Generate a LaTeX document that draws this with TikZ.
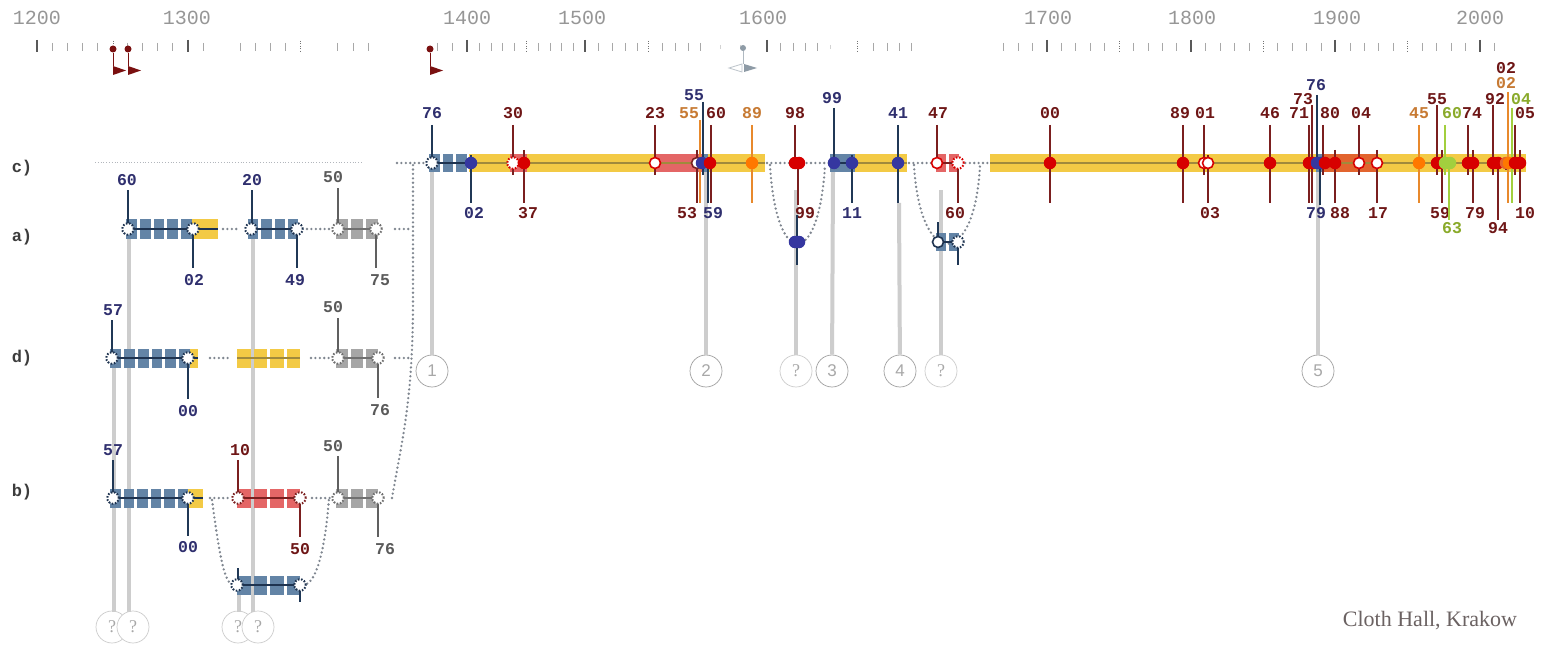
\documentclass[tikz,border=0pt]{standalone}
\usepackage{fontspec}
\setmainfont{Liberation Serif}
\newfontfamily\monofam{Liberation Mono}
\newfontfamily\sansfam{Liberation Sans}
\usetikzlibrary{positioning}

\definecolor{barblue}{HTML}{6384A6}
\definecolor{baryel}{HTML}{F3CA45}
\definecolor{barred}{HTML}{E46666}
\definecolor{bargrey}{HTML}{A6A6A6}
\definecolor{barorg}{HTML}{E2642E}
\definecolor{navy}{HTML}{2F2F6E}
\definecolor{navyd}{HTML}{1E3350}
\definecolor{stnavy}{HTML}{203856}
\definecolor{dotblue}{HTML}{3537A0}
\definecolor{dotred}{HTML}{D70000}
\definecolor{dred}{HTML}{6E1616}
\definecolor{stred}{HTML}{7B1F1F}
\definecolor{orng}{HTML}{FF7800}
\definecolor{stor}{HTML}{E8892C}
\definecolor{orlab}{HTML}{C77A33}
\definecolor{grn}{HTML}{A2CF3E}
\definecolor{grlab}{HTML}{8AAA2A}
\definecolor{labgrey}{HTML}{5A5A5A}
\definecolor{stgrey}{HTML}{606060}
\definecolor{dgrey}{HTML}{707070}
\definecolor{gline}{HTML}{CDCDCD}
\definecolor{dotcol}{HTML}{7F8690}
\definecolor{olive}{HTML}{A08A3C}
\definecolor{rowgrey}{HTML}{3C3C3C}
\definecolor{yeargrey}{HTML}{969696}
\definecolor{tickgrey}{HTML}{A8A8A8}
\definecolor{flagred}{HTML}{7A1010}
\definecolor{markgrey}{HTML}{8E9BA6}
\definecolor{ringcol}{HTML}{A0A0A0}
\definecolor{qringcol}{HTML}{CCCCCC}
\definecolor{ringtext}{HTML}{A8A8A8}
\definecolor{placetext}{HTML}{6B6262}

\newcommand{\labfont}{\monofam\bfseries\fontsize{16.5}{17}\selectfont}
\newcommand{\yearfont}{\monofam\fontsize{20}{22}\selectfont}
\newcommand{\rowfont}{\monofam\bfseries\fontsize{17}{18}\selectfont}

% x1, x2, number of pieces, y centre, height, colour
\newcommand{\segbar}[6]{%
  \pgfmathsetmacro{\segw}{(#2-#1-3*(#3-1))/#3}
  \foreach \k in {1,...,#3}{
    \fill[#6] ({#1+(\k-1)*(\segw+3)},{#4-#5/2}) rectangle ++(\segw,#5);
  }}

\begin{document}
\begin{tikzpicture}[x=1pt,y=-1pt,
  lab/.style={font=\labfont, inner sep=0pt},
  rowlab/.style={font=\rowfont, text=rowgrey, inner sep=0pt},
  yearlab/.style={font=\yearfont, text=yeargrey, inner sep=0pt},
  stemln/.style={line width=1.3pt},
  midline/.style={line width=1.1pt},
  fdot/.style={circle, fill=#1, inner sep=0pt, minimum size=12.5pt},
  odot/.style={circle, draw=#1, fill=white, line width=1.6pt, inner sep=0pt, minimum size=11pt},
  ddot/.style={circle, draw=#1, fill=white, line width=2pt, dash pattern=on 1.6pt off 1.6pt, inner sep=0pt, minimum size=11.5pt},
  link/.style={dotcol, line width=2.6pt, dash pattern=on 0pt off 4.4pt, line cap=round},
  guide/.style={gline, line width=4pt},
  ring/.style={circle, draw=ringcol, fill=white, line width=0.7pt, minimum size=32pt, inner sep=0pt, font=\sansfam\fontsize{17}{17}\selectfont, text=ringtext},
  qring/.style={ring, draw=qringcol, font=\rmfamily\fontsize{18}{18}\selectfont},
  minortick/.style={tickgrey, line width=0.9pt},
  majortick/.style={black!65, line width=1.6pt},
  halftick/.style={black!55, line width=1pt, dash pattern=on 1pt off 1.5pt},
]
\useasboundingbox (0,0) rectangle (1550,658);
\fill[white] (0,0) rectangle (1550,658);

% time axis
\foreach \yr/\xx in {1200/37,1300/187,1400/467,1500/582,1600/763,1700/1048,1800/1192,1900/1337,2000/1480}
  \node[yearlab] (y\yr) at (\xx,18) {\yr};
\foreach \tx in {37,188,467,585,767,1047,1191,1335,1480}
  \draw[majortick] (\tx,40) -- (\tx,52);
\foreach \tx in {113,300,526,648,857,1119,1263,1407}
  \draw[halftick] (\tx,41) -- (\tx,52);
\foreach \k in {1,2,3,4,6,7,8,9}
  \draw[minortick] ({37+15.1*\k},43) -- ({37+15.1*\k},51);
\foreach \tx in {203,240,255,270,285,337,353,368,437,452,
                 479,491,502,514,538,550,561,573,
                 598,612,625,637,662,675,688,700,
                 780,793,805,817,873,887,899,911}
  \draw[minortick] (\tx,43) -- (\tx,51);
\foreach \tx in {720,740,830}
  \draw[tickgrey!50, line width=0.8pt] (\tx,45) -- (\tx,49);
\foreach \k in {-3,-2,-1,1,2,3,4,6,7,8,9,11,12,13,14,16,17,18,19,21,22,23,24,26,27,28,29,31}
  \draw[minortick] ({1047+14.43*\k},43) -- ({1047+14.43*\k},51);

% flags on the axis
\foreach \fx [count=\i] in {113,128,430}{
  \node[circle, fill=flagred, inner sep=0pt, minimum size=7pt] (fd\i) at (\fx,49) {};
  \coordinate (ff\i) at (\fx,66);
  \draw[flagred, line width=0.6pt] (fd\i) -- (ff\i);
  \fill[flagred] (ff\i) -- ++(0,9) -- ++(13,-4.5) -- cycle;
}
\node[circle, fill=markgrey, inner sep=0pt, minimum size=6pt] (gm) at (743,48) {};
\coordinate (gmf) at (743,64);
\draw[markgrey!70, line width=0.6pt] (gm) -- (gmf);
\draw[markgrey!60, line width=0.8pt, fill=white] (742,64) -- (729,68) -- (742,72) -- cycle;
\fill[markgrey] (744,64) -- (757,68) -- (744,72) -- cycle;

% row names
\node[rowlab] (rc) at (22,168) {c)};
\node[rowlab] (ra) at (22,237) {a)};
\node[rowlab] (rd) at (22,358) {d)};
\node[rowlab] (rb) at (22,492) {b)};

% rings and guides
\node[ring] (r1) at (432,371) {1};
\node[ring] (r2) at (706,371) {2};
\node[qring] (q1) at (796,371) {?};
\node[ring] (r3) at (832,371) {3};
\node[ring] (r4) at (900,371) {4};
\node[qring] (q2) at (941,371) {?};
\node[ring] (r5) at (1318,371) {5};
\node[qring] (q3) at (112,627) {?};
\node[qring] (q4) at (133,627) {?};
\node[qring] (q5) at (238,627) {?};
\node[qring] (q6) at (258,627) {?};
\draw[guide] (432,172) -- (r1);
\draw[guide] (706,172) -- (r2);
\draw[guide] (796,190) -- (q1);
\draw[guide] (833,172) -- (r3);
\draw[guide] (899,203) -- (r4);
\draw[guide] (941,190) -- (q2);
\draw[guide] (1318,172) -- (r5);
\draw[guide] (114,368) -- (114,612);
\draw[guide] (129,239) -- (129,612);
\draw[guide] (239,594) -- (239,612);
\draw[guide] (253,239) -- (253,612);

% dotted links
\draw[dotcol!60, line width=0.8pt, dash pattern=on 0.8pt off 2pt] (95,162) -- (362,162);
\draw[link] (397,163) -- (428,163);
\draw[link] (767,163) -- (830,163);
\draw[link] (770,165) .. controls (776,270) and (819,270) .. (825,165);
\draw[link] (909,163) -- (935,163);
\draw[link] (961,163) -- (990,163);
\draw[link] (914,165) .. controls (920,270) and (975,270) .. (980,165);
\draw[link] (392,498) .. controls (402,440) and (413,400) .. (413,300) -- (413,163);
\foreach \ly in {229,358}
  \draw[link] (395,\ly) -- (411,\ly);
\draw[link] (223,229) -- (240,229);
\draw[link] (307,229) -- (330,229);
\draw[link] (210,358) -- (228,358);
\draw[link] (311,358) -- (330,358);
\draw[link] (210,498) -- (230,498);
\draw[link] (312,498) -- (332,498);
\draw[link] (212,500) .. controls (220,560) and (225,585) .. (234,585);
\draw[link] (303,585) .. controls (318,585) and (326,540) .. (329,498);

% bars of row c
\segbar{429}{467}{3}{163}{18}{barblue}
\fill[baryel] (469,154) rectangle (765,172);
\fill[barred] (510,154) rectangle (527,172);
\fill[barred] (655,154) rectangle (702,172);
\fill[barblue] (702,154) rectangle (708,172);
\fill[baryel] (834,154) rectangle (907,172);
\fill[barblue] (830,154) rectangle (855,172);
\segbar{936}{959}{2}{163}{18}{barred}
\segbar{936}{959}{2}{242}{18}{barblue}
\fill[baryel] (990,154) rectangle (1526,172);
\fill[barblue] (1316,154) rectangle (1323,172);
\fill[barorg] (1323,154) rectangle (1378,172);
\draw[midline, navyd] (432,163) -- (471,163);
\draw[midline, olive] (471,163) -- (765,163);
\draw[midline, navyd] (834,163) -- (852,163);
\draw[midline, olive] (852,163) -- (907,163);
\draw[midline, stred] (937,163) -- (958,163);
\draw[midline, navyd] (938,242) -- (958,242);
\draw[midline, olive] (990,163) -- (1526,163);

% bars of rows a, d, b
\segbar{126}{192}{5}{229}{20}{barblue}
\fill[baryel] (192,219) rectangle (218,239);
\segbar{248}{298}{4}{229}{20}{barblue}
\segbar{336}{378}{3}{229}{20}{bargrey}
\segbar{110}{190}{6}{358}{19}{barblue}
\fill[baryel] (190,348.5) rectangle (198,367.5);
\segbar{237}{300}{4}{358}{19}{baryel}
\segbar{336}{378}{3}{358}{19}{bargrey}
\segbar{110}{188}{6}{498}{19}{barblue}
\fill[baryel] (188,488.5) rectangle (203,507.5);
\segbar{237}{300}{4}{498}{19}{barred}
\segbar{336}{378}{3}{498}{19}{bargrey}
\segbar{237}{300}{4}{585}{19}{barblue}
\draw[midline, navyd] (128,229) -- (218,229);
\draw[midline, navyd] (251,229) -- (297,229);
\draw[midline, dgrey] (338,229) -- (376,229);
\draw[midline, navyd] (112,358) -- (198,358);
\draw[midline, olive] (237,358) -- (300,358);
\draw[midline, dgrey] (338,358) -- (378,358);
\draw[midline, navyd] (113,498) -- (203,498);
\draw[midline, stred] (238,498) -- (300,498);
\draw[midline, dgrey] (338,498) -- (378,498);
\draw[midline, navyd] (237,585) -- (300,585);

% stems and year labels
\foreach \sx/\sa/\sb/\sc/\lx/\ly/\lc/\txt [count=\i] in {
  432/125/163/stnavy/432/113/navy/76,
  471/155/203/stnavy/474/213/navy/02,
  513/125/175/stred/513/113/dred/30,
  524/150/203/stred/528/213/dred/37,
  655/125/175/stred/655/113/dred/23,
  697/150/203/stred/687/213/dred/53,
  703/102/175/stnavy/694/95/navy/55,
  700/120/203/stor/689/113/orlab/55,
  711/125/203/stred/716/113/dred/60,
  708/163/203/stnavy/713/213/navy/59,
  752/125/203/stor/752/113/orlab/89,
  795/125/165/stred/795/113/dred/98,
  798/163/205/stred/805/213/dred/99,
  797/215/265/stnavy/797/242/navy/{},
  834/108/163/stnavy/832/98/navy/99,
  852/155/203/stnavy/852/213/navy/11,
  898/125/203/stnavy/898/113/navy/41,
  937/125/163/stred/938/113/dred/47,
  958/163/203/stred/955/213/dred/60,
  938/222/242/stnavy/938/242/navy/{},
  958/242/265/stnavy/958/242/navy/{},
  1050/125/203/stred/1050/113/dred/00,
  1183/125/203/stred/1180/113/dred/89,
  1204/125/175/stred/1205/113/dred/01,
  1208/155/203/stred/1210/213/dred/03,
  1270/125/203/stred/1270/113/dred/46,
  1309/125/203/stred/1299/113/dred/71,
  1312/105/203/stred/1303/99/dred/73,
  1317/95/163/stnavy/1316/85/navy/76,
  1320/163/205/stnavy/1316/213/navy/79,
  1323/125/175/stred/1330/113/dred/80,
  1335/150/203/stred/1340/213/dred/88,
  1359/125/175/stred/1361/113/dred/04,
  1377/150/203/stred/1378/213/dred/17,
  1419/125/203/stor/1419/113/orlab/45,
  1437/105/175/stred/1437/99/dred/55,
  1442/150/203/stred/1440/213/dred/59,
  1445/125/175/grn/1452/113/grlab/60,
  1449/163/220/grn/1452/228/grlab/63,
  1468/125/175/stred/1472/113/dred/74,
  1473/150/203/stred/1475/213/dred/79,
  1493/105/175/stred/1495/99/dred/92,
  1498/163/220/stred/1498/228/dred/94,
  1506/163/170/stred/1506/68/dred/02,
  1508/92/203/stor/1506/83/orlab/02,
  1512/108/203/grn/1521/99/grlab/04,
  1515/125/175/stred/1525/113/dred/05,
  1520/150/203/stred/1525/213/dred/10,
  128/190/229/stnavy/127/180/navy/60,
  193/229/268/stnavy/194/280/navy/02,
  252/190/229/stnavy/252/180/navy/20,
  297/229/268/stnavy/295/280/navy/49,
  338/188/229/stgrey/333/177/labgrey/50,
  376/229/268/stgrey/380/280/labgrey/75,
  112/320/358/stnavy/113/310/navy/57,
  188/358/399/stnavy/188/411/navy/00,
  338/318/358/stgrey/333/307/labgrey/50,
  378/358/398/stgrey/380/410/labgrey/76,
  113/460/498/stnavy/113/450/navy/57,
  188/498/536/stnavy/188/547/navy/00,
  238/460/498/stred/240/450/dred/10,
  300/498/537/stred/300/549/dred/50,
  338/456/498/stgrey/333/446/labgrey/50,
  378/498/537/stgrey/385/549/labgrey/76,
  238/568/585/stnavy/238/585/navy/{},
  300/585/602/stnavy/300/585/navy/{}}{
  \draw[stemln, \sc] (\sx,\sa) -- (\sx,\sb);
  \node[lab, text=\lc] (l\i) at (\lx,\ly) {\txt};
}

% event dots
\foreach \dx/\dy/\dk/\dc [count=\i] in {
  432/163/ddot/navyd, 471/163/fdot/dotblue, 513/163/ddot/dotred,
  524/163/fdot/dotred, 655/163/odot/dotred, 697/163/odot/stred,
  702/163/fdot/dotblue, 710/163/fdot/dotred, 752/163/fdot/orng,
  795/163/fdot/dotred, 799/163/fdot/dotred, 795/242/fdot/dotblue,
  799/242/fdot/dotblue, 834/163/fdot/dotblue, 852/163/fdot/dotblue,
  898/163/fdot/dotblue, 937/163/odot/dotred, 958/163/ddot/dotred,
  938/242/odot/navyd, 958/242/ddot/navyd, 1050/163/fdot/dotred,
  1183/163/fdot/dotred, 1204/163/odot/dotred, 1208/163/odot/dotred,
  1270/163/fdot/dotred, 1309/163/fdot/dotred, 1313/163/fdot/dotred,
  1317/163/fdot/dotblue, 1321/163/fdot/dotblue, 1325/163/fdot/dotred,
  1335/163/fdot/dotred, 1359/163/odot/dotred, 1377/163/odot/dotred,
  1419/163/fdot/orng, 1437/163/fdot/dotred, 1442/163/fdot/dotred,
  1445/163/fdot/grn, 1450/163/fdot/grn, 1468/163/fdot/dotred,
  1473/163/fdot/dotred, 1493/163/fdot/dotred, 1498/163/fdot/dotred,
  1506/163/fdot/barorg, 1509/163/fdot/orng, 1515/163/fdot/dotred,
  1520/163/fdot/dotred,
  128/229/ddot/navyd, 193/229/ddot/navyd, 251/229/ddot/navyd,
  297/229/ddot/navyd, 338/229/ddot/dgrey, 376/229/ddot/dgrey,
  112/358/ddot/navyd, 188/358/ddot/navyd, 338/358/ddot/dgrey,
  378/358/ddot/dgrey, 113/498/ddot/navyd, 188/498/ddot/navyd,
  238/498/ddot/stred, 300/498/ddot/stred, 338/498/ddot/dgrey,
  378/498/ddot/dgrey, 237/585/ddot/navyd, 300/585/ddot/navyd}{
  \node[\dk=\dc] (d\i) at (\dx,\dy) {};
}

\node[font=\rmfamily\fontsize{22}{22}\selectfont, text=placetext, inner sep=0pt] (place) at (1430,621) {Cloth Hall, Krakow};
\end{tikzpicture}
\end{document}
